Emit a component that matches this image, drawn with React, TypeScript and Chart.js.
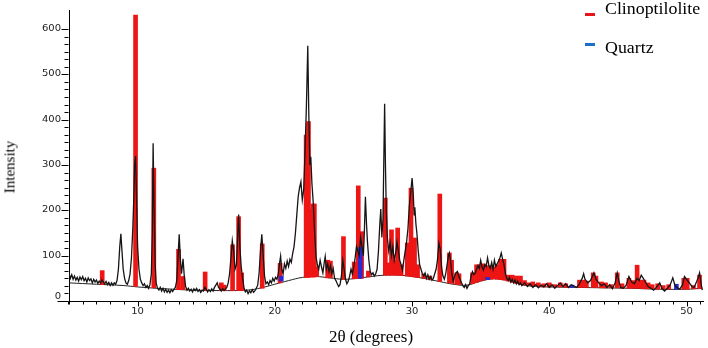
import React, { useEffect, useRef } from "react";
import { Chart, registerables } from "chart.js";

Chart.register(...registerables);

// Measured XRD scan: [2θ (degrees), intensity]
const scanPoints: [number, number][] = [
  [5.0, 62], [5.1, 50], [5.2, 58], [5.3, 48], [5.4, 55], [5.5, 46], [5.6, 52], [5.7, 44], [5.8, 53], [5.9, 47],
  [6.0, 54], [6.1, 45], [6.2, 50], [6.3, 42], [6.4, 51], [6.5, 45], [6.6, 49], [6.7, 40], [6.8, 48], [6.9, 42],
  [7.0, 46], [7.1, 39], [7.2, 44], [7.3, 40], [7.4, 47], [7.5, 42], [7.6, 38], [7.7, 43], [7.8, 36], [7.9, 41],
  [8.0, 34], [8.1, 40], [8.2, 35], [8.3, 40], [8.4, 37], [8.5, 45], [8.6, 70], [8.7, 120], [8.78, 148], [8.85, 115],
  [8.95, 70], [9.05, 50], [9.15, 40], [9.25, 37], [9.35, 45], [9.45, 60], [9.55, 95], [9.65, 160], [9.72, 225], [9.78, 300],
  [9.85, 320], [9.92, 230], [10.0, 120], [10.1, 70], [10.2, 48], [10.3, 40], [10.4, 34], [10.5, 38], [10.6, 30], [10.7, 34],
  [10.8, 28], [10.9, 36], [11.0, 60], [11.07, 150], [11.13, 348], [11.2, 200], [11.28, 80], [11.35, 40], [11.45, 28], [11.55, 24],
  [11.65, 30], [11.75, 22], [11.85, 28], [11.95, 20], [12.05, 26], [12.15, 19], [12.25, 24], [12.35, 18], [12.45, 25], [12.55, 21],
  [12.65, 26], [12.75, 30], [12.85, 45], [12.95, 100], [13.03, 147], [13.12, 90], [13.2, 60], [13.31, 93], [13.4, 55], [13.5, 32],
  [13.6, 24], [13.7, 28], [13.8, 22], [13.9, 26], [14.0, 20], [14.1, 27], [14.2, 23], [14.3, 28], [14.4, 21], [14.5, 25],
  [14.6, 19], [14.7, 24], [14.8, 22], [14.9, 30], [15.0, 26], [15.1, 20], [15.2, 25], [15.3, 21], [15.4, 27], [15.5, 22],
  [15.6, 30], [15.7, 35], [15.8, 40], [15.9, 30], [16.0, 26], [16.1, 22], [16.2, 27], [16.3, 23], [16.5, 30], [16.6, 40],
  [16.7, 60], [16.8, 95], [16.9, 133], [17.0, 110], [17.1, 70], [17.2, 80], [17.3, 150], [17.36, 191], [17.45, 120], [17.55, 75],
  [17.65, 50], [17.75, 30], [17.85, 20], [17.95, 24], [18.05, 16], [18.15, 22], [18.25, 18], [18.35, 25], [18.45, 19], [18.55, 23],
  [18.65, 28], [18.75, 35], [18.85, 60], [18.95, 110], [19.05, 147], [19.15, 100], [19.25, 55], [19.35, 38], [19.45, 42], [19.55, 36],
  [19.65, 45], [19.75, 40], [19.85, 50], [19.95, 44], [20.05, 52], [20.15, 48], [20.25, 60], [20.35, 85], [20.42, 99], [20.5, 70],
  [20.6, 60], [20.7, 82], [20.8, 72], [20.9, 88], [21.0, 76], [21.1, 92], [21.2, 85], [21.3, 105], [21.4, 120], [21.5, 150],
  [21.6, 190], [21.7, 230], [21.8, 250], [21.9, 263], [22.0, 223], [22.1, 245], [22.2, 330], [22.3, 430], [22.4, 563], [22.47, 420],
  [22.55, 300], [22.62, 318], [22.7, 260], [22.8, 216], [22.9, 150], [23.0, 98], [23.1, 80], [23.2, 70], [23.3, 90], [23.4, 75],
  [23.5, 62], [23.6, 85], [23.67, 98], [23.75, 70], [23.85, 82], [23.95, 65], [24.05, 78], [24.15, 60], [24.25, 72], [24.35, 50],
  [24.45, 45], [24.55, 38], [24.65, 32], [24.75, 36], [24.85, 55], [24.95, 90], [25.05, 70], [25.15, 48], [25.25, 38], [25.35, 44],
  [25.45, 55], [25.55, 70], [25.65, 60], [25.75, 75], [25.85, 95], [25.95, 120], [26.05, 110], [26.15, 100], [26.25, 140], [26.35, 120],
  [26.45, 100], [26.52, 150], [26.6, 230], [26.68, 170], [26.75, 130], [26.85, 90], [26.95, 65], [27.05, 58], [27.15, 62], [27.25, 55],
  [27.35, 60], [27.45, 70], [27.55, 110], [27.65, 170], [27.72, 203], [27.8, 140], [27.88, 180], [27.95, 330], [28.0, 435], [28.06, 300],
  [28.12, 200], [28.2, 140], [28.3, 110], [28.4, 130], [28.5, 100], [28.6, 120], [28.7, 90], [28.8, 105], [28.9, 130], [29.0, 110],
  [29.1, 90], [29.2, 80], [29.3, 68], [29.4, 90], [29.5, 110], [29.6, 130], [29.7, 160], [29.8, 210], [29.9, 240], [30.0, 271],
  [30.08, 240], [30.15, 190], [30.2, 207], [30.28, 170], [30.35, 150], [30.45, 110], [30.55, 80], [30.65, 70], [30.75, 60], [30.85, 55],
  [30.95, 62], [31.05, 50], [31.15, 58], [31.25, 48], [31.35, 54], [31.45, 46], [31.55, 50], [31.65, 60], [31.75, 70], [31.85, 90],
  [31.95, 128], [32.05, 115], [32.15, 75], [32.25, 55], [32.35, 48], [32.45, 60], [32.55, 80], [32.65, 100], [32.72, 106], [32.8, 90],
  [32.9, 60], [33.0, 43], [33.1, 55], [33.2, 62], [33.3, 65], [33.4, 55], [33.5, 48], [33.6, 40], [33.7, 34], [33.8, 30],
  [33.9, 36], [34.0, 28], [34.1, 34], [34.2, 38], [34.3, 55], [34.4, 65], [34.5, 58], [34.6, 62], [34.7, 70], [34.8, 78],
  [34.9, 72], [35.0, 90], [35.1, 75], [35.2, 68], [35.3, 80], [35.4, 76], [35.5, 95], [35.6, 78], [35.7, 72], [35.8, 85],
  [35.9, 70], [36.0, 90], [36.1, 76], [36.2, 82], [36.3, 88], [36.4, 95], [36.5, 106], [36.6, 92], [36.7, 80], [36.8, 60],
  [36.9, 50], [37.0, 45], [37.1, 52], [37.2, 42], [37.3, 48], [37.4, 40], [37.5, 46], [37.6, 38], [37.7, 44], [37.8, 36],
  [37.9, 40], [38.0, 34], [38.2, 40], [38.4, 32], [38.6, 38], [38.8, 30], [39.0, 36], [39.2, 29], [39.4, 35], [39.6, 31],
  [39.8, 38], [40.0, 30], [40.2, 36], [40.4, 28], [40.6, 34], [40.8, 40], [41.0, 32], [41.2, 38], [41.4, 30], [41.6, 36],
  [41.8, 33], [42.0, 30], [42.2, 38], [42.4, 50], [42.5, 60], [42.6, 48], [42.8, 40], [43.0, 45], [43.15, 55], [43.25, 62],
  [43.4, 48], [43.6, 40], [43.8, 34], [44.0, 38], [44.2, 30], [44.4, 36], [44.6, 27], [44.8, 40], [44.95, 62], [45.1, 40],
  [45.2, 30], [45.4, 28], [45.6, 35], [45.8, 54], [46.0, 42], [46.2, 38], [46.4, 50], [46.55, 45], [46.7, 57], [46.85, 50],
  [47.0, 42], [47.2, 32], [47.4, 28], [47.6, 24], [47.8, 30], [48.05, 40], [48.2, 28], [48.4, 22], [48.6, 28], [48.8, 35],
  [49.0, 51], [49.15, 35], [49.3, 30], [49.5, 26], [49.7, 35], [49.85, 54], [50.0, 48], [50.2, 40], [50.4, 32], [50.55, 30],
  [50.7, 40], [50.85, 52], [50.95, 62], [51.05, 40], [51.15, 24],
];

// Fitted background: [2θ, intensity]
const backgroundCurve: [number, number][] = [
  [5, 40], [7, 37], [9, 34], [10, 31], [12, 27], [14, 24], [16, 23], [18, 24], [19, 29], [20, 37],
  [21, 45], [22, 52], [23, 54], [24, 51], [25, 48], [26, 50], [27, 54], [28, 57], [29, 57], [30, 54],
  [31, 49], [32, 43], [33, 37], [34, 35], [35, 44], [36, 49], [37, 45], [38, 36], [39, 32], [40, 31],
  [42, 30], [44, 29], [46, 28], [48, 26], [50, 26], [51.15, 28],
];

// Clinoptilolite reference peaks: [2θ, base, top]
const clinoptilolitePeaks: [number, number, number][] = [
  [7.42, 36, 67], [9.85, 32, 631], [11.18, 29, 293], [12.98, 25, 114], [13.3, 25, 54], [14.92, 23, 64],
  [16.1, 23, 40], [16.3, 23, 35], [16.92, 23, 124], [17.36, 23, 186], [17.58, 23, 62], [19.08, 28, 126],
  [20.38, 40, 83], [22.28, 52, 366], [22.45, 52, 396], [22.62, 53, 201], [22.78, 53, 214], [22.88, 53, 214],
  [23.05, 54, 75], [23.85, 51, 90], [24.05, 51, 88], [25.0, 48, 142], [25.78, 49, 86], [26.08, 50, 254],
  [26.32, 50, 153], [26.82, 53, 66], [28.05, 57, 227], [28.3, 57, 84], [28.5, 57, 157], [28.75, 57, 90],
  [28.95, 57, 161], [29.2, 56, 80], [29.65, 55, 128], [29.92, 54, 249], [30.18, 53, 139], [30.4, 52, 80],
  [30.85, 50, 60], [31.3, 47, 55], [32.02, 43, 236], [32.72, 40, 106], [32.88, 39, 90], [33.25, 37, 62],
  [33.42, 36, 60], [34.4, 38, 62], [34.7, 41, 80], [34.95, 44, 80], [35.2, 46, 82], [35.45, 47, 78],
  [35.7, 48, 78], [35.95, 49, 75], [36.2, 48, 80], [36.45, 47, 92], [36.7, 46, 92], [37.0, 44, 57],
  [37.3, 41, 57], [37.6, 39, 55], [37.9, 37, 55], [38.2, 35, 45], [38.5, 34, 40], [38.8, 33, 42],
  [39.2, 32, 40], [39.6, 31, 38], [40.0, 31, 40], [40.4, 31, 36], [40.8, 31, 40], [41.2, 30, 38],
  [42.2, 30, 46], [42.45, 30, 46], [42.7, 30, 44], [43.2, 30, 62], [43.4, 30, 55], [43.8, 29, 42],
  [44.1, 29, 40], [44.5, 29, 36], [44.95, 29, 62], [45.3, 28, 38], [45.8, 28, 50], [46.1, 28, 45],
  [46.4, 28, 79], [46.65, 28, 46], [46.9, 27, 46], [47.2, 27, 40], [47.5, 27, 36], [47.9, 26, 38],
  [48.3, 26, 34], [48.7, 26, 36], [49.8, 26, 50], [50.05, 26, 50], [50.5, 27, 34], [50.95, 27, 57],
];

// Quartz reference peaks: [2θ, base, top]
const quartzPeaks: [number, number, number][] = [
  [20.47, 44, 55], [26.22, 50, 118], [35.5, 47, 52], [41.65, 30, 35], [49.26, 26, 37],
];

const xLabelTicks = [10, 20, 30, 40, 50];
const yLabelTicks = [0, 100, 200, 300, 400, 500, 600];
const legendItems = [
  { label: "Clinoptilolite", color: "#e8141c", top: 0, dashTop: 13 },
  { label: "Quartz", color: "#1f6fc8", top: 39, dashTop: 43 },
];

const RED = "#ee1515";
const BLUE = "#2a2ad0";

export default function App() {
  const ref = useRef<HTMLCanvasElement>(null);

  useEffect(() => {
    if (!ref.current) return;
    const axisDecor = {
      id: "axisDecor",
      afterDraw(chart: any) {
        const { ctx, chartArea, scales } = chart;
        const xs = scales.x;
        const ys = scales.y;
        const left = Math.round(chartArea.left) - 0.5;
        const bottom = Math.round(chartArea.bottom) + 0.5;
        ctx.save();
        ctx.strokeStyle = "#000";
        ctx.lineWidth = 1;
        ctx.beginPath();
        // axis stubs
        ctx.moveTo(left - 11, bottom);
        ctx.lineTo(left, bottom);
        ctx.moveTo(left, bottom);
        ctx.lineTo(left, bottom + 3);
        // y ticks: six per hundred, longer at labelled values
        const yMax = yLabelTicks[yLabelTicks.length - 1];
        for (let k = 0; k <= (yMax / 100) * 6; k++) {
          const v = (k * 100) / 6;
          const py = Math.round(ys.getPixelForValue(v)) + 0.5;
          const len = k % 6 === 0 ? 7 : 4;
          ctx.moveTo(left - len, py);
          ctx.lineTo(left, py);
        }
        // x ticks: every degree, longer at labelled values
        for (let d = Math.ceil(xs.min); d <= Math.floor(xs.max); d++) {
          const px = Math.round(xs.getPixelForValue(d)) + 0.5;
          const len = d % 10 === 0 ? 5 : 3;
          ctx.moveTo(px, bottom);
          ctx.lineTo(px, bottom + len);
        }
        ctx.stroke();

        // tick labels (wide, squat look of the original)
        ctx.fillStyle = "#222";
        ctx.font = "8px 'DejaVu Sans', Arial, sans-serif";
        ctx.textBaseline = "middle";
        for (const v of yLabelTicks) {
          let py = ys.getPixelForValue(v);
          if (v === 0) py -= 4;
          ctx.save();
          ctx.translate(left - 7.5, py);
          ctx.scale(1.25, 1);
          ctx.textAlign = "right";
          ctx.fillText(String(v), 0, 0);
          ctx.restore();
        }
        for (const v of xLabelTicks) {
          const px = xs.getPixelForValue(v);
          ctx.save();
          ctx.translate(px, bottom + 10.5);
          ctx.scale(1.25, 1);
          ctx.textAlign = "center";
          ctx.fillText(String(v), 0, 0);
          ctx.restore();
        }
        ctx.restore();
      },
    };
    const chart = new Chart(ref.current, {
      type: "bar",
      data: {
        datasets: [
          {
            type: "line",
            label: "scan",
            data: scanPoints.map(([x, y]) => ({ x, y })),
            borderColor: "#151515",
            borderWidth: 1.3,
            pointRadius: 0,
            tension: 0,
            order: 0,
          } as any,
          {
            type: "bar",
            label: "Quartz",
            data: quartzPeaks.map(([x, b, t]) => ({ x, y: [b, t] })),
            backgroundColor: BLUE,
            barThickness: 4,
            grouped: false,
            order: 1,
          } as any,
          {
            type: "bar",
            label: "Clinoptilolite",
            data: clinoptilolitePeaks.map(([x, b, t]) => ({ x, y: [b, t] })),
            backgroundColor: RED,
            barThickness: 4,
            grouped: false,
            order: 2,
          } as any,
          {
            type: "line",
            label: "background",
            data: backgroundCurve.map(([x, y]) => ({ x, y })),
            borderColor: "#222",
            borderWidth: 1,
            pointRadius: 0,
            tension: 0.4,
            order: 3,
          } as any,
        ],
      },
      options: {
        animation: false,
        responsive: false,
        maintainAspectRatio: false,
        layout: { padding: { top: 10, right: 5, left: 0, bottom: 0 } },
        plugins: { legend: { display: false }, tooltip: { enabled: false } },
        scales: {
          x: {
            type: "linear",
            min: 5,
            max: 51.2,
            offset: false,
            afterFit(s: any) {
              s.height = 47;
            },
            ticks: { display: false, stepSize: 1 },
            grid: { display: false, offset: false },
            border: { display: true, color: "#000", width: 1 },
          },
          y: {
            type: "linear",
            min: 0,
            max: 642,
            afterFit(s: any) {
              s.width = 69;
            },
            ticks: { display: false, stepSize: 100 },
            grid: { display: false },
            border: { display: true, color: "#000", width: 1 },
          },
        },
      } as any,
      plugins: [axisDecor],
    });
    return () => chart.destroy();
  }, []);

  const serif = "'Liberation Serif', 'Times New Roman', serif";

  return (
    <div style={{ position: "fixed", left: 0, top: 0, width: 708, height: 348, background: "#fff", overflow: "hidden" }}>
      <canvas ref={ref} width={708} height={348} style={{ position: "absolute", left: 0, top: 0, width: 708, height: 348 }} />
      {legendItems.map((it) => (
        <React.Fragment key={it.label}>
          <div style={{ position: "absolute", left: 585, top: it.dashTop, width: 10, height: 3, background: it.color }} />
          <div
            style={{
              position: "absolute",
              left: 605,
              top: it.top,
              fontFamily: serif,
              fontSize: 17,
              lineHeight: "17px",
              color: "#000",
              whiteSpace: "nowrap",
              transform: "scaleX(1.05)",
              transformOrigin: "left center",
            }}
          >
            {it.label}
          </div>
        </React.Fragment>
      ))}
      <div
        style={{
          position: "absolute",
          left: 371,
          top: 328,
          transform: "translateX(-50%)",
          fontFamily: serif,
          fontSize: 17,
          lineHeight: "17px",
          whiteSpace: "nowrap",
          color: "#000",
        }}
      >
        2θ (degrees)
      </div>
      <div
        style={{
          position: "absolute",
          left: 10,
          top: 167,
          transform: "translate(-50%, -50%) rotate(-90deg)",
          fontFamily: serif,
          fontSize: 15,
          lineHeight: "15px",
          whiteSpace: "nowrap",
          color: "#000",
        }}
      >
        Intensity
      </div>
    </div>
  );
}
